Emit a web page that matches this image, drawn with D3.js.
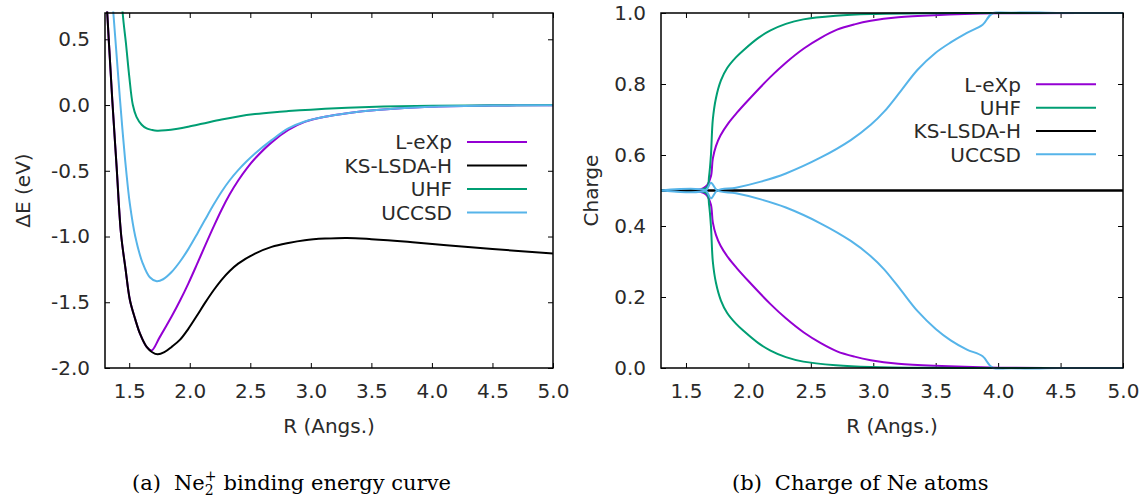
<!DOCTYPE html>
<html>
<head>
<meta charset="utf-8">
<script src="https://cdn.jsdelivr.net/npm/d3@7"></script>
<style>
body { margin: 0; background: #fff; }
svg text { font-family: "DejaVu Sans", sans-serif; fill: #2a2a2a; }
svg text.cap { font-family: "DejaVu Serif", serif; fill: #000; }
</style>
</head>
<body>
<div id="i"></div>
<script>
// ticks
const xTicks = [1.5, 2.0, 2.5, 3.0, 3.5, 4.0, 4.5, 5.0]
const energyTicks = [-2.0, -1.5, -1.0, -0.5, 0.0, 0.5]
const chargeTicks = [0.0, 0.2, 0.4, 0.6, 0.8, 1.0]

// (a) binding energy, dE (eV) vs R (Angs.)
const rLeXp = [1.30, 1.36, 1.396, 1.432, 1.47, 1.506, 1.55, 1.589, 1.644, 1.685, 1.75, 1.85, 1.92, 1.988, 2.06, 2.126, 2.2, 2.263, 2.33, 2.40, 2.47, 2.539, 2.676, 2.814, 2.95, 3.117, 3.3, 3.57, 3.98, 4.5, 5.0]
const eLeXp = [1.0, 0.04, -0.47, -0.977, -1.25, -1.485, -1.63, -1.739, -1.84, -1.866, -1.769, -1.609, -1.487, -1.358, -1.21, -1.071, -0.919, -0.796, -0.679, -0.574, -0.483, -0.407, -0.284, -0.19, -0.128, -0.089, -0.062, -0.036, -0.013, -0.004, -0.001]
const rKS = [1.30, 1.36, 1.396, 1.432, 1.47, 1.506, 1.55, 1.589, 1.644, 1.69, 1.735, 1.79, 1.85, 1.92, 1.988, 2.06, 2.126, 2.2, 2.263, 2.33, 2.40, 2.539, 2.676, 2.814, 2.95, 3.117, 3.3, 3.5, 3.8, 4.12, 4.5, 5.0]
const eKS = [1.0, 0.04, -0.47, -0.977, -1.25, -1.485, -1.63, -1.739, -1.84, -1.88, -1.896, -1.88, -1.84, -1.784, -1.702, -1.601, -1.505, -1.405, -1.329, -1.262, -1.206, -1.13, -1.079, -1.049, -1.028, -1.016, -1.011, -1.02, -1.04, -1.066, -1.095, -1.13]
const rUHF = [1.40, 1.446, 1.473, 1.50, 1.53, 1.56, 1.603, 1.644, 1.69, 1.73, 1.80, 1.90, 1.988, 2.1, 2.263, 2.4, 2.539, 2.7, 2.814, 3.0, 3.117, 3.3, 3.6, 4.0, 4.5, 5.0]
const eUHF = [1.4, 0.70, 0.47, 0.22, 0.0, -0.09, -0.15, -0.178, -0.19, -0.195, -0.192, -0.18, -0.165, -0.143, -0.11, -0.087, -0.069, -0.054, -0.046, -0.035, -0.029, -0.021, -0.012, -0.006, -0.002, 0.0]
const rUCCSD = [1.30, 1.369, 1.424, 1.45, 1.475, 1.505, 1.55, 1.61, 1.67, 1.727, 1.78, 1.85, 1.92, 1.988, 2.06, 2.126, 2.2, 2.263, 2.33, 2.40, 2.47, 2.539, 2.676, 2.814, 2.95, 3.117, 3.3, 3.57, 3.98, 4.5, 5.0]
const eUCCSD = [1.5, 0.70, 0.04, -0.25, -0.5, -0.75, -1.0, -1.2, -1.31, -1.34, -1.325, -1.27, -1.19, -1.096, -0.982, -0.873, -0.753, -0.659, -0.572, -0.495, -0.428, -0.368, -0.267, -0.178, -0.125, -0.089, -0.062, -0.036, -0.013, -0.004, -0.001]

// (b) charge of the two Ne atoms (A and B) vs R (Angs.)
const qrLeXp = [1.3, 1.6, 1.64, 1.67, 1.70, 1.715, 1.74, 1.776, 1.84, 1.91, 2.0, 2.177, 2.3, 2.444, 2.58, 2.71, 2.85, 2.98, 3.2, 3.49, 4.0, 5.0]
const qLeXpA = [0.5, 0.502, 0.507, 0.515, 0.54, 0.59, 0.625, 0.655, 0.69, 0.72, 0.755, 0.82, 0.86, 0.9, 0.93, 0.953, 0.968, 0.978, 0.988, 0.994, 0.999, 1.0]
const qLeXpB = [0.5, 0.498, 0.493, 0.485, 0.46, 0.41, 0.375, 0.345, 0.31, 0.28, 0.245, 0.18, 0.14, 0.1, 0.07, 0.047, 0.032, 0.022, 0.012, 0.006, 0.001, 0.0]
const qrUHF = [1.3, 1.6, 1.67, 1.685, 1.70, 1.715, 1.74, 1.78, 1.83, 1.9, 1.963, 2.08, 2.177, 2.3, 2.44, 2.7, 2.98, 3.5, 4.0, 5.0]
const qUHFA = [0.5, 0.5, 0.51, 0.54, 0.6, 0.70, 0.76, 0.81, 0.845, 0.875, 0.896, 0.93, 0.951, 0.9695, 0.982, 0.992, 0.997, 0.9995, 1.0, 1.0]
const qUHFB = [0.5, 0.5, 0.49, 0.46, 0.4, 0.30, 0.24, 0.19, 0.155, 0.125, 0.104, 0.07, 0.049, 0.0305, 0.018, 0.008, 0.003, 0.0005, 0.0, 0.0]
const qrKS = [1.3, 5.0]
const qKSA = [0.5, 0.5]
const qKSB = [0.5, 0.5]
const qrUCCSD = [1.3, 1.656, 1.70, 1.75, 1.9, 2.1, 2.3, 2.58, 2.82, 2.98, 3.087, 3.22, 3.355, 3.5, 3.62, 3.75, 3.876, 3.96, 4.5, 5.0]
const qUCCSDA = [0.5, 0.5, 0.478, 0.5, 0.508, 0.525, 0.548, 0.593, 0.642, 0.685, 0.722, 0.78, 0.84, 0.888, 0.917, 0.944, 0.967, 1.0, 1.0, 1.0]
const qUCCSDB = [0.5, 0.5, 0.522, 0.5, 0.492, 0.475, 0.452, 0.407, 0.358, 0.315, 0.278, 0.22, 0.16, 0.11, 0.078, 0.052, 0.033, 0.0, 0.0, 0.0]

const energyLegend = ["L-eXp", "KS-LSDA-H", "UHF", "UCCSD"]
const chargeLegend = ["L-eXp", "UHF", "KS-LSDA-H", "UCCSD"]

;((exports) => {
    let colors = { "L-eXp": "#9400d3", "KS-LSDA-H": "#000000", "UHF": "#009e73", "UCCSD": "#56b4e9" },
        fmt = d => d.toFixed(1),
        svg = d3.select("div#i").append("svg")
                .attr("width", 1144)
                .attr("height", 498)

    let panel = (box, yDomain, yTicks, series, legend, id) => {
        let x = d3.scaleLinear().domain([1.3, 5.0]).range([box.left, box.right]),
            y = d3.scaleLinear().domain(yDomain).range([box.bottom, box.top])

        svg.append("clipPath").attr("id", id)
            .append("rect")
            .attr("x", box.left).attr("y", box.top - 1.5)
            .attr("width", box.right - box.left).attr("height", box.bottom - box.top + 3)

        let axes = [
            [d3.axisBottom(x).tickValues(xTicks).tickFormat(fmt), `translate(0,${box.bottom})`],
            [d3.axisTop(x).tickValues(xTicks).tickFormat(""), `translate(0,${box.top})`],
            [d3.axisLeft(y).tickValues(yTicks).tickFormat(fmt), `translate(${box.left},0)`],
            [d3.axisRight(y).tickValues(yTicks).tickFormat(""), `translate(${box.right},0)`]
        ]
        axes.forEach(([ax, tr], k) => {
            let g = svg.append("g").attr("transform", tr)
                .call(ax.tickSizeInner(-5).tickSizeOuter(0).tickPadding(k == 0 ? 16 : 15))
                .attr("font-size", 20)
            g.select(".domain").remove()
            g.selectAll(".tick line").attr("stroke", "#000")
        })

        let line = d3.line().x(d => x(d[0])).y(d => y(d[1])).curve(d3.curveCatmullRom.alpha(0.5))
        let lines = svg.append("g").attr("clip-path", `url(#${id})`)
        series.forEach(s => {
            s.ys.forEach(ys => {
                lines.append("path")
                    .attr("d", line(d3.zip(s.xs, ys)))
                    .attr("fill", "none")
                    .attr("stroke", colors[s.name])
                    .attr("stroke-width", 2)
            })
        })

        svg.append("rect")
            .attr("x", box.left).attr("y", box.top)
            .attr("width", box.right - box.left).attr("height", box.bottom - box.top)
            .attr("fill", "none").attr("stroke", "#000").attr("stroke-width", 1.5)

        let lg = svg.append("g")
        legend.names.forEach((name, i) => {
            let ly = legend.top + i * legend.step
            lg.append("text")
                .attr("x", legend.textRight).attr("y", ly).attr("dy", "0.36em")
                .attr("text-anchor", "end").attr("font-size", 20)
                .text(name)
            lg.append("line")
                .attr("x1", legend.lineLeft).attr("x2", legend.lineLeft + 60)
                .attr("y1", ly).attr("y2", ly)
                .attr("stroke", colors[name]).attr("stroke-width", 2)
        })

        svg.append("text")
            .attr("x", (box.left + box.right) / 2).attr("y", 433)
            .attr("text-anchor", "middle").attr("font-size", 20)
            .text("R (Angs.)")
    }

    panel({ left: 105, right: 553, top: 13, bottom: 368 }, [-2.0, 0.7], energyTicks, [
        { name: "L-eXp", xs: rLeXp, ys: [eLeXp] },
        { name: "KS-LSDA-H", xs: rKS, ys: [eKS] },
        { name: "UHF", xs: rUHF, ys: [eUHF] },
        { name: "UCCSD", xs: rUCCSD, ys: [eUCCSD] }
    ], { names: energyLegend, top: 142, step: 23.5, textRight: 452, lineLeft: 467 }, "clipA")

    panel({ left: 661, right: 1123, top: 13, bottom: 368 }, [0, 1], chargeTicks, [
        { name: "L-eXp", xs: qrLeXp, ys: [qLeXpA, qLeXpB] },
        { name: "UHF", xs: qrUHF, ys: [qUHFA, qUHFB] },
        { name: "KS-LSDA-H", xs: qrKS, ys: [qKSA, qKSB] },
        { name: "UCCSD", xs: qrUCCSD, ys: [qUCCSDA, qUCCSDB] }
    ], { names: chargeLegend, top: 84.3, step: 23.35, textRight: 1021, lineLeft: 1036 }, "clipB")

    svg.append("text")
        .attr("transform", "translate(30,190.5) rotate(-90)")
        .attr("text-anchor", "middle").attr("font-size", 20)
        .text("ΔE (eV)")
    svg.append("text")
        .attr("transform", "translate(598,190.5) rotate(-90)")
        .attr("text-anchor", "middle").attr("font-size", 20)
        .text("Charge")

    // captions
    let capA = svg.append("text").attr("class", "cap")
        .attr("x", 132).attr("y", 490).attr("font-size", 21)
    capA.append("tspan").text("(a)")
    capA.append("tspan").attr("dx", 13).text("Ne")
    capA.append("tspan").attr("font-size", 14).attr("dy", 5).text("2")
    capA.append("tspan").attr("font-size", 14).attr("dx", -8.9).attr("dy", -14).text("+")
    capA.append("tspan").attr("dy", 9).attr("dx", 7).text("binding energy curve")

    let capB = svg.append("text").attr("class", "cap")
        .attr("x", 732).attr("y", 490).attr("font-size", 21)
    capB.append("tspan").text("(b)")
    capB.append("tspan").attr("dx", 13).text("Charge of Ne atoms")
})(window)
</script>
</body>
</html>
